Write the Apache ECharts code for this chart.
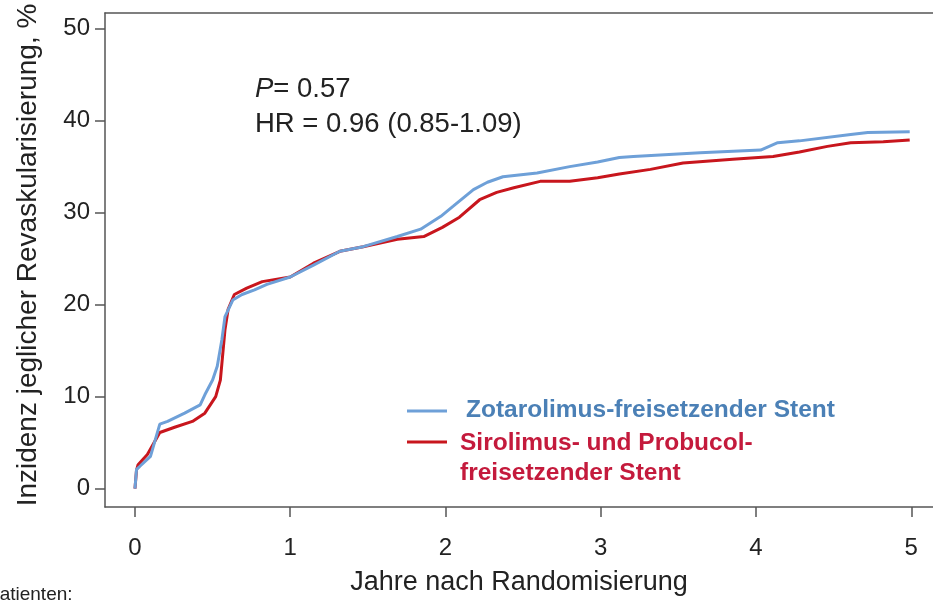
<!DOCTYPE html>
<html lang="de">
<head>
    <meta charset="utf-8">
    <title>Revaskularisierung</title>
    <script src="https://cdn.jsdelivr.net/npm/echarts@6/dist/echarts.min.js"></script>
    <style>
        html, body { margin: 0; padding: 0; background: #fff; }
        #chart1 { width: 933px; height: 603px; }
    </style>
</head>
<body>
<div id="chart1"></div>
<script type="text/javascript">
    // Jahre nach Randomisierung / Inzidenz in %
    var zotaX = [0, 0.01, 0.03, 0.1, 0.16, 0.21, 0.32, 0.42, 0.45, 0.5, 0.53, 0.56, 0.58, 0.63, 0.69, 0.77, 0.85, 1.0, 1.15, 1.32, 1.47, 1.69, 1.84, 1.97, 2.05, 2.18, 2.27, 2.37, 2.59, 2.8, 2.98, 3.12, 3.21, 3.64, 4.03, 4.14, 4.28, 4.61, 4.72, 4.99];
    var zotaY = [0, 2.1, 2.4, 3.5, 7.0, 7.3, 8.2, 9.1, 10.2, 11.8, 13.3, 16.2, 18.7, 20.5, 21.1, 21.6, 22.2, 23.0, 24.3, 25.8, 26.3, 27.4, 28.2, 29.6, 30.7, 32.5, 33.3, 33.9, 34.3, 35.0, 35.5, 36.0, 36.1, 36.5, 36.8, 37.6, 37.8, 38.5, 38.7, 38.8];
    var siroX = [0, 0.01, 0.02, 0.08, 0.16, 0.26, 0.37, 0.45, 0.52, 0.55, 0.58, 0.6, 0.64, 0.72, 0.82, 1.0, 1.15, 1.32, 1.47, 1.69, 1.86, 1.98, 2.09, 2.22, 2.33, 2.44, 2.61, 2.8, 2.98, 3.12, 3.32, 3.53, 3.85, 4.11, 4.28, 4.46, 4.61, 4.82, 4.99];
    var siroY = [0, 2.0, 2.6, 3.7, 6.1, 6.7, 7.3, 8.2, 10.0, 11.8, 17.3, 19.5, 21.1, 21.8, 22.5, 23.0, 24.5, 25.8, 26.3, 27.1, 27.4, 28.4, 29.5, 31.4, 32.2, 32.7, 33.4, 33.4, 33.8, 34.2, 34.7, 35.4, 35.8, 36.1, 36.6, 37.2, 37.6, 37.7, 37.9];
    var xTicks = [0, 1, 2, 3, 4, 5];
    var yTicks = [0, 10, 20, 30, 40, 50];
    var zotaName = 'Zotarolimus-freisetzender Stent';
    var siroName = 'Sirolimus- und Probucol-freisetzender Stent';

    function pairs(xs, ys) {
        return xs.map(function (x, i) { return [x, ys[i]]; });
    }

    var myEcharts = echarts.init(document.getElementById("chart1"));
    var axisColor = '#555';
    var font = 'Liberation Sans, Arial, sans-serif';

    myEcharts.setOption({
        animation: false,
        textStyle: { fontFamily: font },
        grid: { left: 105, right: 0, top: 13, bottom: 96 },
        xAxis: [{
            type: 'value',
            min: -0.193, max: 5.14,
            name: 'Jahre nach Randomisierung',
            nameLocation: 'middle',
            nameGap: 62,
            nameTextStyle: { fontSize: 27, color: '#222' },
            splitLine: { show: false },
            axisLine: { onZero: false, lineStyle: { color: axisColor, width: 1.5 } },
            axisTick: { customValues: xTicks, length: 10, lineStyle: { color: axisColor, width: 1.5 } },
            axisLabel: { customValues: xTicks, margin: 29, fontSize: 24, color: '#222' }
        }, {
            type: 'value', position: 'top',
            min: -0.193, max: 5.14,
            splitLine: { show: false },
            axisLine: { onZero: false, lineStyle: { color: axisColor, width: 1.5 } },
            axisTick: { show: false },
            axisLabel: { show: false }
        }],
        yAxis: {
            type: 'value',
            min: -2, max: 51.7,
            name: 'Inzidenz jeglicher Revaskularisierung, %',
            nameLocation: 'middle',
            nameGap: 63,
            nameTextStyle: { fontSize: 28, color: '#222', padding: [0, 0, 0, 10] },
            splitLine: { show: false },
            axisLine: { onZero: false, lineStyle: { color: axisColor, width: 1.5 } },
            axisTick: { customValues: yTicks, length: 10, lineStyle: { color: axisColor, width: 1.5 } },
            axisLabel: { customValues: yTicks, margin: 15, fontSize: 24, color: '#222' }
        },
        series: [{
            name: siroName,
            type: 'line',
            showSymbol: false,
            lineStyle: { color: '#c8161d', width: 3 },
            data: pairs(siroX, siroY)
        }, {
            name: zotaName,
            type: 'line',
            showSymbol: false,
            lineStyle: { color: '#6ea0d8', width: 3 },
            data: pairs(zotaX, zotaY)
        }],
        graphic: [
            {
                type: 'text', left: 255, top: 72,
                style: {
                    text: '{i|P}= 0.57\nHR = 0.96 (0.85-1.09)',
                    font: '27.5px ' + font, fill: '#222', lineHeight: 35,
                    rich: { i: { fontStyle: 'italic', fontSize: 27.5, fontFamily: font, fill: '#222', lineHeight: 35 } }
                }
            },
            { type: 'line', shape: { x1: 407, y1: 411, x2: 447, y2: 411 }, style: { stroke: '#6ea0d8', lineWidth: 3 } },
            { type: 'line', shape: { x1: 407, y1: 442, x2: 447, y2: 442 }, style: { stroke: '#c8161d', lineWidth: 3 } },
            {
                type: 'text', left: 466, top: 398,
                style: { text: zotaName, font: 'bold 24.5px ' + font, fill: '#4b80b6' }
            },
            {
                type: 'text', left: 460, top: 428,
                style: { text: 'Sirolimus- und Probucol-\nfreisetzender Stent', font: 'bold 24.5px ' + font, fill: '#c41a3c', lineHeight: 30 }
            },
            {
                type: 'text', left: -13, top: 585,
                style: { text: 'Patienten:', font: '19px ' + font, fill: '#222' }
            }
        ]
    });
</script>
</body>
</html>
